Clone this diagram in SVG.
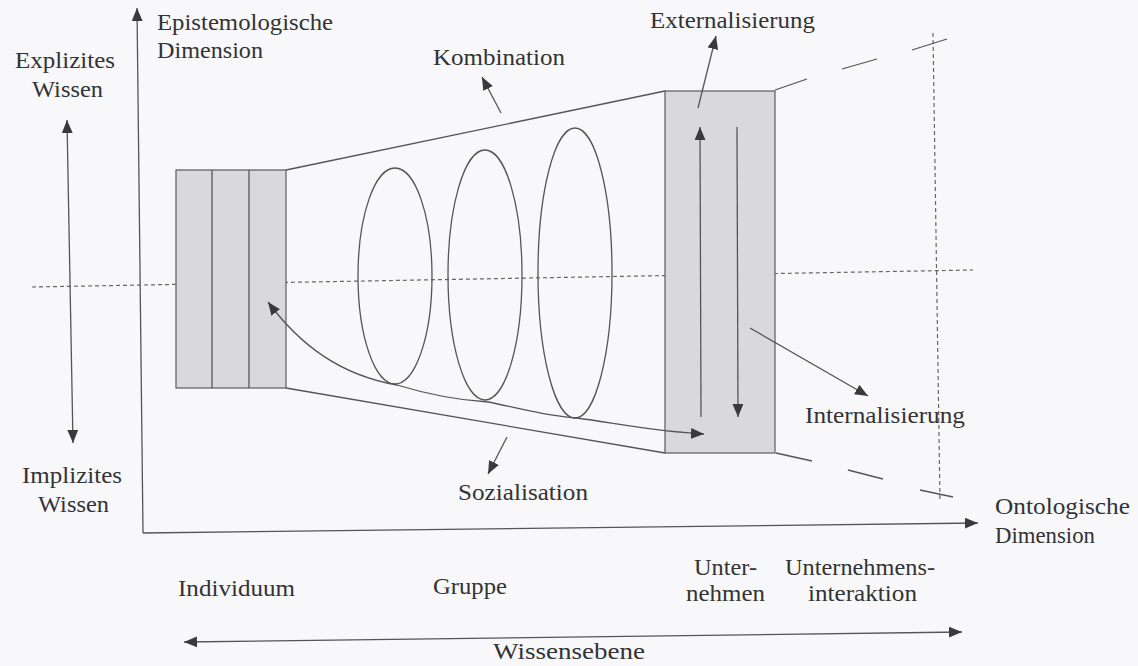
<svg xmlns="http://www.w3.org/2000/svg" width="1138" height="666" viewBox="0 0 1138 666">
<defs>
<style>
.t{font-family:'Liberation Serif',serif;font-size:23px;fill:#333}
.ln{stroke:#555;stroke-width:1.3;fill:none}
.ax{stroke:#555;stroke-width:1.3;fill:none}
.dot{stroke:#666;stroke-width:1.2;fill:none;stroke-dasharray:4 3}
.dash{stroke:#555;stroke-width:1.3;fill:none}
.box{fill:#d9d9db;stroke:#666;stroke-width:1.3}
.ell{fill:none;stroke:#555;stroke-width:1.3}
</style>
<marker id="ah" viewBox="0 0 12 10" markerUnits="userSpaceOnUse" markerWidth="13" markerHeight="11" refX="12" refY="5" orient="auto-start-reverse">
<path d="M0,0 L12,5 L0,10 z" fill="#3a3a3a"/>
</marker>
</defs>
<rect width="1138" height="666" fill="#f8f8fa"/>

<g id="guides">
<line class="dot" x1="32" y1="287" x2="973" y2="270"/>
<line class="dot" x1="933" y1="33" x2="940" y2="502"/>
</g>

<g id="left-block">
<rect class="box" x="176" y="170" width="110" height="218"/>
<line class="ln" x1="212" y1="170" x2="212" y2="388"/>
<line class="ln" x1="249" y1="170" x2="249" y2="388"/>
</g>

<g id="right-block">
<rect class="box" x="665" y="91" width="110" height="362"/>
</g>

<g id="funnel">
<line class="ln" x1="286" y1="170" x2="665" y2="91"/>
<line class="ln" x1="286" y1="388" x2="665" y2="453"/>
<line class="dash" x1="775" y1="90" x2="807" y2="79"/>
<line class="dash" x1="842" y1="69" x2="877" y2="59"/>
<line class="dash" x1="912" y1="50" x2="947" y2="39"/>
<line class="dash" x1="776" y1="453" x2="812" y2="461"/>
<line class="dash" x1="848" y1="470" x2="883" y2="479"/>
<line class="dash" x1="920" y1="490" x2="953" y2="497"/>
</g>

<g id="spirals">
<ellipse class="ell" cx="395" cy="276" rx="37" ry="108"/>
<ellipse class="ell" cx="485" cy="275" rx="37" ry="125"/>
<ellipse class="ell" cx="575" cy="273" rx="37" ry="145"/>
</g>

<g id="connectors">
<line class="ax" x1="143" y1="533" x2="137" y2="8" marker-end="url(#ah)"/>
<line class="ax" x1="143" y1="533" x2="978" y2="523" marker-end="url(#ah)"/>
<line class="ax" x1="67" y1="120" x2="73" y2="443" marker-start="url(#ah)" marker-end="url(#ah)"/>
<line class="ax" x1="184" y1="642" x2="962" y2="632" marker-start="url(#ah)" marker-end="url(#ah)"/>
<line class="ln" x1="501" y1="113" x2="482" y2="77" marker-end="url(#ah)"/>
<line class="ln" x1="698" y1="108" x2="716" y2="36" marker-end="url(#ah)"/>
<line class="ln" x1="750" y1="328" x2="868" y2="396" marker-end="url(#ah)"/>
<line class="ln" x1="507" y1="437" x2="488" y2="474" marker-end="url(#ah)"/>
<line class="ln" x1="701" y1="417" x2="700" y2="127" marker-end="url(#ah)"/>
<line class="ln" x1="737" y1="127" x2="738" y2="417" marker-end="url(#ah)"/>
<path class="ln" d="M268 302 C300 345 340 375 397 385 C430 395 455 400 488 402 C520 408 545 416 577 418 C620 424 660 432 704 434" marker-start="url(#ah)" marker-end="url(#ah)"/>
</g>

<g id="labels">
<text class="t" x="157" y="30" textLength="176" lengthAdjust="spacingAndGlyphs">Epistemologische</text>
<text class="t" x="157" y="58" textLength="106" lengthAdjust="spacingAndGlyphs">Dimension</text>
<text class="t" x="15" y="68" textLength="100" lengthAdjust="spacingAndGlyphs">Explizites</text>
<text class="t" x="32" y="97" textLength="71" lengthAdjust="spacingAndGlyphs">Wissen</text>
<text class="t" x="433" y="65" textLength="132" lengthAdjust="spacingAndGlyphs">Kombination</text>
<text class="t" x="650" y="28" textLength="165" lengthAdjust="spacingAndGlyphs">Externalisierung</text>
<text class="t" x="805" y="423" textLength="160" lengthAdjust="spacingAndGlyphs">Internalisierung</text>
<text class="t" x="458" y="500" textLength="130" lengthAdjust="spacingAndGlyphs">Sozialisation</text>
<text class="t" x="22" y="483" textLength="100" lengthAdjust="spacingAndGlyphs">Implizites</text>
<text class="t" x="38" y="512" textLength="71" lengthAdjust="spacingAndGlyphs">Wissen</text>
<text class="t" x="995" y="514" textLength="135" lengthAdjust="spacingAndGlyphs">Ontologische</text>
<text class="t" x="995" y="543" textLength="100" lengthAdjust="spacingAndGlyphs">Dimension</text>
<text class="t" x="178" y="596" textLength="117" lengthAdjust="spacingAndGlyphs">Individuum</text>
<text class="t" x="433" y="594" textLength="74" lengthAdjust="spacingAndGlyphs">Gruppe</text>
<text class="t" x="694" y="575" textLength="63" lengthAdjust="spacingAndGlyphs">Unter-</text>
<text class="t" x="686" y="601" textLength="79" lengthAdjust="spacingAndGlyphs">nehmen</text>
<text class="t" x="785" y="575" textLength="150" lengthAdjust="spacingAndGlyphs">Unternehmens-</text>
<text class="t" x="808" y="601" textLength="109" lengthAdjust="spacingAndGlyphs">interaktion</text>
<text class="t" x="493" y="659" textLength="152" lengthAdjust="spacingAndGlyphs">Wissensebene</text>
</g>
</svg>
